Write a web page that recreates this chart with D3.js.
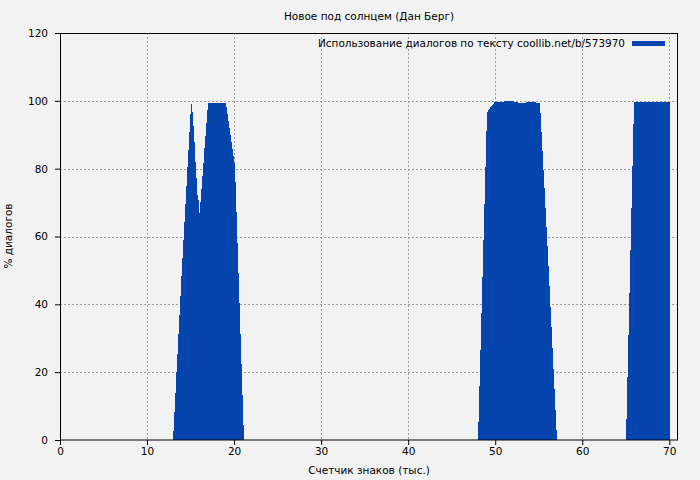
<!DOCTYPE html>
<html><head><meta charset="utf-8">
<script src="https://cdn.jsdelivr.net/npm/d3@7"></script>
<style>body{margin:0;background:#f2f2f2;}svg{display:block;font-family:"DejaVu Sans",sans-serif;}</style>
</head><body><svg id="c" width="700" height="480"></svg>
<script>
const title = "Новое под солнцем (Дан Берг)";
const xLabel = "Счетчик знаков (тыс.)";
const yLabel = "% диалогов";
const legendLabel = "Использование диалогов по тексту coollib.net/b/573970";
const xTicks = [0,10,20,30,40,50,60,70];
const yTicks = [0,20,40,60,80,100,120];
const step = 0.1149; // thousand chars per sample
const segStarts = [12.98, 48.02, 65.03];
const seg1 = [2.7,8.2,14.0,20.0,25.4,31.3,36.9,42.5,48.3,53.7,59.0,64.4,69.7,75.0,80.4,85.5,90.9,96.1,99.0,96.8,
  92.6,88.0,81.9,77.2,72.2,70.7,66.8,70.3,74.0,77.9,81.8,86.0,89.7,93.4,97.3,
  99.4,99.4,99.4,99.4,99.4,99.4,99.4,99.4,99.4,99.4,99.4,99.4,99.4,99.4,99.4,99.4,99.4,99.4,
  98.2,96.2,94.0,92.0,89.8,87.9,85.8,83.8,81.6,76.0,67.2,58.0,49.1,40.3,31.3,22.4,13.3,4.4];
const seg2 = [5.4,16.0,26.6,37.5,48.2,58.9,69.7,80.4,91.0,96.6,97.3,97.7,98.1,98.5,98.9,99.2,99.6,
  99.8,99.8,99.8,99.8,99.8,99.8,99.8,99.8,99.8,
  99.9,99.9,99.9,99.9,99.9,99.9,99.9,99.9,99.9,99.9,
  99.6,99.6,99.6,99.6,
  99.3,99.3,99.3,99.3,99.3,99.3,99.3,99.3,
  99.6,99.6,99.6,99.6,99.8,99.6,99.6,99.6,99.6,99.6,
  99.3,99.3,99.3,99.3,
  96.3,90.7,85.1,79.5,74.2,68.5,62.9,57.3,51.3,45.5,39.3,33.4,27.2,21.0,15.1,8.9,3.0];
const seg3 = [6.2,18.5,31.0,43.4,56.1,68.5,80.9,93.3,
  99.7,99.7,99.7,99.7,99.7,99.7,99.7,99.7,99.7,99.7,99.7,99.7,99.7,99.7,99.7,99.7,99.7,99.7,
  99.7,99.7,99.7,99.7,99.7,99.7,99.7,99.7,99.7,99.7,99.7,99.7,99.7,99.7,99.7,99.7,99.7,99.7];
const segments = [seg1, seg2, seg3];

const color = "#0645ad";
const svg = d3.select("#c");
const x = d3.scaleLinear().domain([0,71]).range([60,678]);
const y = d3.scaleLinear().domain([0,120]).range([440,33]);

svg.append("rect").attr("width",700).attr("height",480).attr("fill","#f2f2f2");

// grid
const grid = svg.append("g").attr("stroke","#999").attr("stroke-width",1).attr("stroke-dasharray","2,2");
xTicks.filter(t=>t>0).forEach(t=>grid.append("line").attr("x1",Math.round(x(t))+0.5).attr("x2",Math.round(x(t))+0.5).attr("y1",y(120)).attr("y2",y(0)));
yTicks.filter(t=>t>0).forEach(t=>grid.append("line").attr("x1",x(0)).attr("x2",x(71)).attr("y1",Math.round(y(t))+0.5).attr("y2",Math.round(y(t))+0.5));

// bars
const data = [];
segments.forEach((seg,k)=>seg.forEach((v,i)=>data.push({x0:segStarts[k]+i*step, v})));
svg.append("g").attr("fill",color).attr("shape-rendering","crispEdges")
  .selectAll("rect").data(data).join("rect")
  .attr("x",d=>Math.round(x(d.x0)))
  .attr("width",1)
  .attr("y",d=>y(d.v))
  .attr("height",d=>y(0)-y(d.v));

// border
svg.append("rect").attr("x",60.5).attr("y",33.5).attr("width",617).attr("height",406.5)
  .attr("fill","none").attr("stroke","#000").attr("stroke-width",1);

// axes
const xa = svg.append("g").attr("transform","translate(0,440)")
  .call(d3.axisBottom(x).tickValues(xTicks).tickSize(5).tickPadding(3));
const ya = svg.append("g").attr("transform","translate(60,0)")
  .call(d3.axisLeft(y).tickValues(yTicks).tickSize(5).tickPadding(7));
[xa,ya].forEach(a=>{a.select(".domain").remove();a.selectAll("text").attr("font-size",10.5).attr("font-family","DejaVu Sans").attr("fill","#000");a.selectAll("line").attr("stroke","#000");});

svg.append("text").attr("x",369).attr("y",20).attr("text-anchor","middle").attr("font-size",10.5).text(title);
svg.append("text").attr("x",369).attr("y",474).attr("text-anchor","middle").attr("font-size",10.5).text(xLabel);
svg.append("text").attr("transform","translate(12,236) rotate(-90)").attr("text-anchor","middle").attr("font-size",10.5).text(yLabel);

// legend
svg.append("text").attr("x",625).attr("y",47).attr("text-anchor","end").attr("font-size",10.5).attr("textLength",307).attr("lengthAdjust","spacingAndGlyphs").text(legendLabel);
svg.append("rect").attr("x",632).attr("y",41).attr("width",33).attr("height",5).attr("fill",color);
</script></body></html>
